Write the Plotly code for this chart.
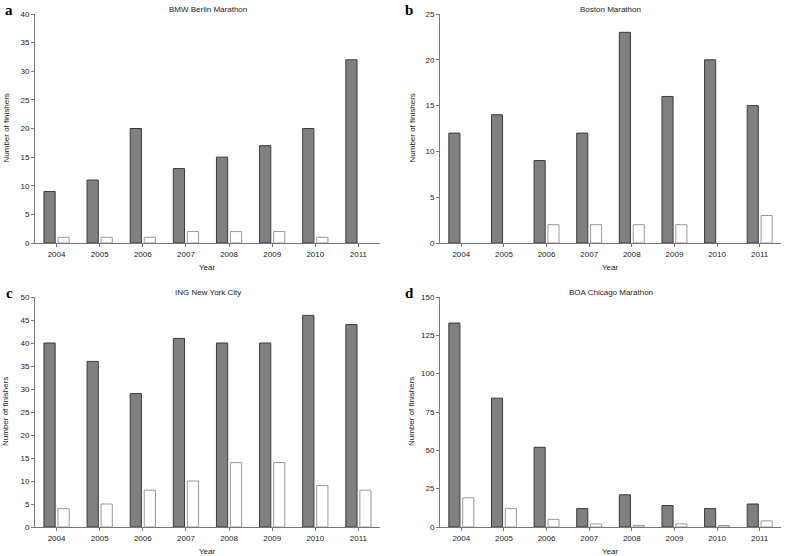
import plotly.graph_objects as go

years = ["2004", "2005", "2006", "2007", "2008", "2009", "2010", "2011"]

berlin_dark = [9, 11, 20, 13, 15, 17, 20, 32]
berlin_white = [1, 1, 1, 2, 2, 2, 1, 0]
boston_dark = [12, 14, 9, 12, 23, 16, 20, 15]
boston_white = [0, 0, 2, 2, 2, 2, 0, 3]
nyc_dark = [40, 36, 29, 41, 40, 40, 46, 44]
nyc_white = [4, 5, 8, 10, 14, 14, 9, 8]
chicago_dark = [133, 84, 52, 12, 21, 14, 12, 15]
chicago_white = [19, 12, 5, 2, 1, 2, 1, 4]

titles = ["BMW Berlin Marathon", "Boston Marathon", "ING New York City", "BOA Chicago Marathon"]
letters = ["a", "b", "c", "d"]
y_max = [40, 25, 50, 150]
y_dtick = [5, 5, 5, 25]
panels = [(berlin_dark, berlin_white), (boston_dark, boston_white),
          (nyc_dark, nyc_white), (chicago_dark, chicago_white)]

W, H = 788, 556
# pixel boxes in screen coords: (left, right, top, bottom)
boxes = [(35, 380, 14, 243), (440, 781, 14, 243),
         (35, 380, 297, 527), (440, 781, 297, 527)]


def px(v):
    return v / W


def py(v):
    return 1 - v / H


def nz(vals):
    # zero-height bars are not drawn in the reference
    return [v if v else None for v in vals]


fig = go.Figure()
font = "Liberation Sans, Arial, sans-serif"
axcol = "#777777"
tcol = "#222222"

for i, ((dark, white), box) in enumerate(zip(panels, boxes)):
    n = "" if i == 0 else str(i + 1)
    xa, ya = "x" + n, "y" + n
    fig.add_trace(go.Bar(x=years, y=nz(dark), xaxis=xa, yaxis=ya,
                         marker=dict(color="#808080", line=dict(color="#3a3a3a", width=1)),
                         showlegend=False, offsetgroup="d"))
    fig.add_trace(go.Bar(x=years, y=nz(white), xaxis=xa, yaxis=ya,
                         marker=dict(color="#ffffff", line=dict(color="#999999", width=1)),
                         showlegend=False, offsetgroup="w"))
    l, r, t, b = box
    fig.layout["xaxis" + n] = dict(
        domain=[px(l), px(r)], anchor=ya, type="category", automargin=False,
        range=[-0.5, 7.5], showline=True, linecolor=axcol, linewidth=1,
        ticks="outside", ticklen=3, tickcolor=axcol, showgrid=False,
        tickfont=dict(size=8, color=tcol, family=font), zeroline=False)
    fig.layout["yaxis" + n] = dict(
        domain=[py(b), py(t)], anchor=xa, automargin=False,
        range=[0, y_max[i]], dtick=y_dtick[i], showline=True, linecolor=axcol,
        linewidth=1, ticks="outside", ticklen=3, tickcolor=axcol, showgrid=False,
        zeroline=False, tickfont=dict(size=8, color=tcol, family=font))
    # panel title
    fig.add_annotation(x=px((l + r) / 2), y=py(t - 5), xref="paper", yref="paper",
                       text=titles[i], showarrow=False, xanchor="center", yanchor="middle",
                       font=dict(size=8, color=tcol, family=font))
    # x axis title
    fig.add_annotation(x=px((l + r) / 2), y=py(b + 24), xref="paper", yref="paper",
                       text="Year", showarrow=False, xanchor="center", yanchor="middle",
                       font=dict(size=8, color=tcol, family=font))
    # y axis title
    yx = 6 if i % 2 == 0 else 412
    fig.add_annotation(x=px(yx), y=py((t + b) / 2), xref="paper", yref="paper",
                       text="Number of finishers", showarrow=False, textangle=-90,
                       xanchor="center", yanchor="middle",
                       font=dict(size=8, color=tcol, family=font))
    # panel letter
    lx = 9 if i % 2 == 0 else 409
    fig.add_annotation(x=px(lx), y=py(t - 4), xref="paper", yref="paper",
                       text="<b>" + letters[i] + "</b>", showarrow=False,
                       xanchor="center", yanchor="middle",
                       font=dict(size=15, color="#000", family="Liberation Serif, serif"))

fig.update_layout(width=W, height=H, margin=dict(l=0, r=0, t=0, b=0),
                  paper_bgcolor="white", plot_bgcolor="white",
                  barmode="group", bargap=0.35, bargroupgap=0.2, hovermode=False)

fig.write_html("out.html", config={"displayModeBar": False},
               post_script="document.body.style.margin='0';document.body.style.padding='0';")
